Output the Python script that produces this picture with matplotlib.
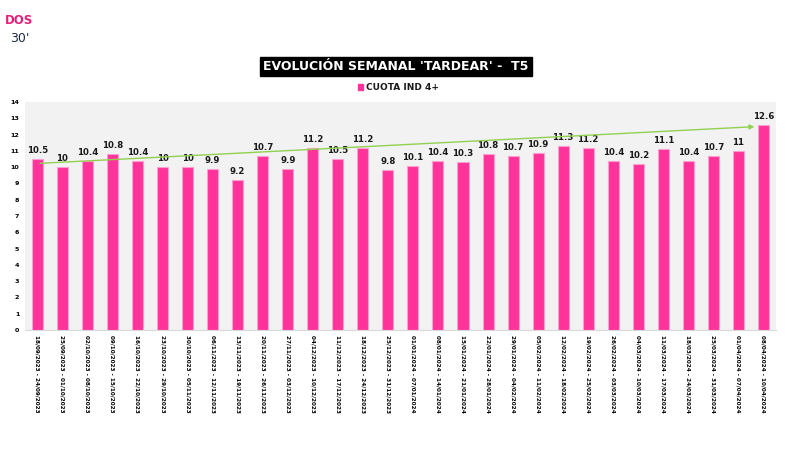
import matplotlib.pyplot as plt
import numpy as np

semanas = ['18/09/2023 - 24/09/2023', '25/09/2023 - 01/10/2023', '02/10/2023 - 08/10/2023',
           '09/10/2023 - 15/10/2023', '16/10/2023 - 22/10/2023', '23/10/2023 - 29/10/2023',
           '30/10/2023 - 05/11/2023', '06/11/2023 - 12/11/2023', '13/11/2023 - 19/11/2023',
           '20/11/2023 - 26/11/2023', '27/11/2023 - 03/12/2023', '04/12/2023 - 10/12/2023',
           '11/12/2023 - 17/12/2023', '18/12/2023 - 24/12/2023', '25/12/2023 - 31/12/2023',
           '01/01/2024 - 07/01/2024', '08/01/2024 - 14/01/2024', '15/01/2024 - 21/01/2024',
           '22/01/2024 - 28/01/2024', '29/01/2024 - 04/02/2024', '05/02/2024 - 11/02/2024',
           '12/02/2024 - 18/02/2024', '19/02/2024 - 25/02/2024', '26/02/2024 - 03/03/2024',
           '04/03/2024 - 10/03/2024', '11/03/2024 - 17/03/2024', '18/03/2024 - 24/03/2024',
           '25/03/2024 - 31/03/2024', '01/04/2024 - 07/04/2024', '08/04/2024 - 10/04/2024']
cuota = [10.5, 10, 10.4, 10.8, 10.4, 10, 10, 9.9, 9.2, 10.7, 9.9, 11.2, 10.5, 11.2, 9.8,
         10.1, 10.4, 10.3, 10.8, 10.7, 10.9, 11.3, 11.2, 10.4, 10.2, 11.1, 10.4, 10.7, 11, 12.6]
# extremos de la línea de tendencia
tendencia = [10.23, 12.5]

rosa = '#ff3399'

fig = plt.figure(figsize=(8, 4.5), dpi=100)
ax = fig.add_axes([0.031, 0.267, 0.939, 0.506])
ax.set_facecolor('#f2f2f2')

x = np.arange(len(cuota))
ax.bar(x, cuota, width=0.44, color=rosa, edgecolor='#ff9fcf', linewidth=0.8, zorder=2)
for xi, v in zip(x, cuota):
    ax.text(xi, v + 0.25, f'{v:g}', ha='center', va='bottom', fontsize=6.2,
            fontweight='bold', color='#1a1a1a')

# tendencia
ax.annotate('', xy=(x[-1] - 0.25, tendencia[1]), xytext=(x[0], tendencia[0]),
            arrowprops=dict(arrowstyle='-|>', color='#92d050', lw=1.0,
                            mutation_scale=7), zorder=3)

ax.set_ylim(0, 14)
ax.set_xlim(-0.5, len(cuota) - 0.5)
ax.set_yticks(np.arange(0, 15, 1))
ax.set_xticks(x)
ax.set_xticklabels(semanas, rotation=-90, fontsize=4.1, fontweight='bold')
for lab in ax.get_yticklabels():
    lab.set_fontsize(4.6)
    lab.set_fontweight('bold')
ax.tick_params(length=0, pad=4)
for s in ['top', 'right', 'left']:
    ax.spines[s].set_visible(False)
ax.spines['bottom'].set_color('#d9d9d9')
ax.spines['bottom'].set_linewidth(0.8)

# título
fig.text(0.495, 0.852, "EVOLUCIÓN SEMANAL 'TARDEAR' -  T5", ha='center', va='center',
         fontsize=9, fontweight='bold', color='white',
         bbox=dict(boxstyle='square,pad=0.25', fc='black', ec='black'))
# leyenda
fig.patches.append(plt.Rectangle((0.447, 0.800), 0.007, 0.0125, transform=fig.transFigure,
                                 color=rosa))
fig.text(0.457, 0.806, 'CUOTA IND 4+', ha='left', va='center', fontsize=6.5,
         fontweight='bold', color='#1a1a1a')

# logo
fig.text(0.006, 0.955, 'DOS', ha='left', va='center', fontsize=8.5, fontweight='bold',
         color='#e0217a')
fig.text(0.012, 0.915, "30'", ha='left', va='center', fontsize=9, color='#1f2a44')

fig.savefig('out.png', dpi=100)
